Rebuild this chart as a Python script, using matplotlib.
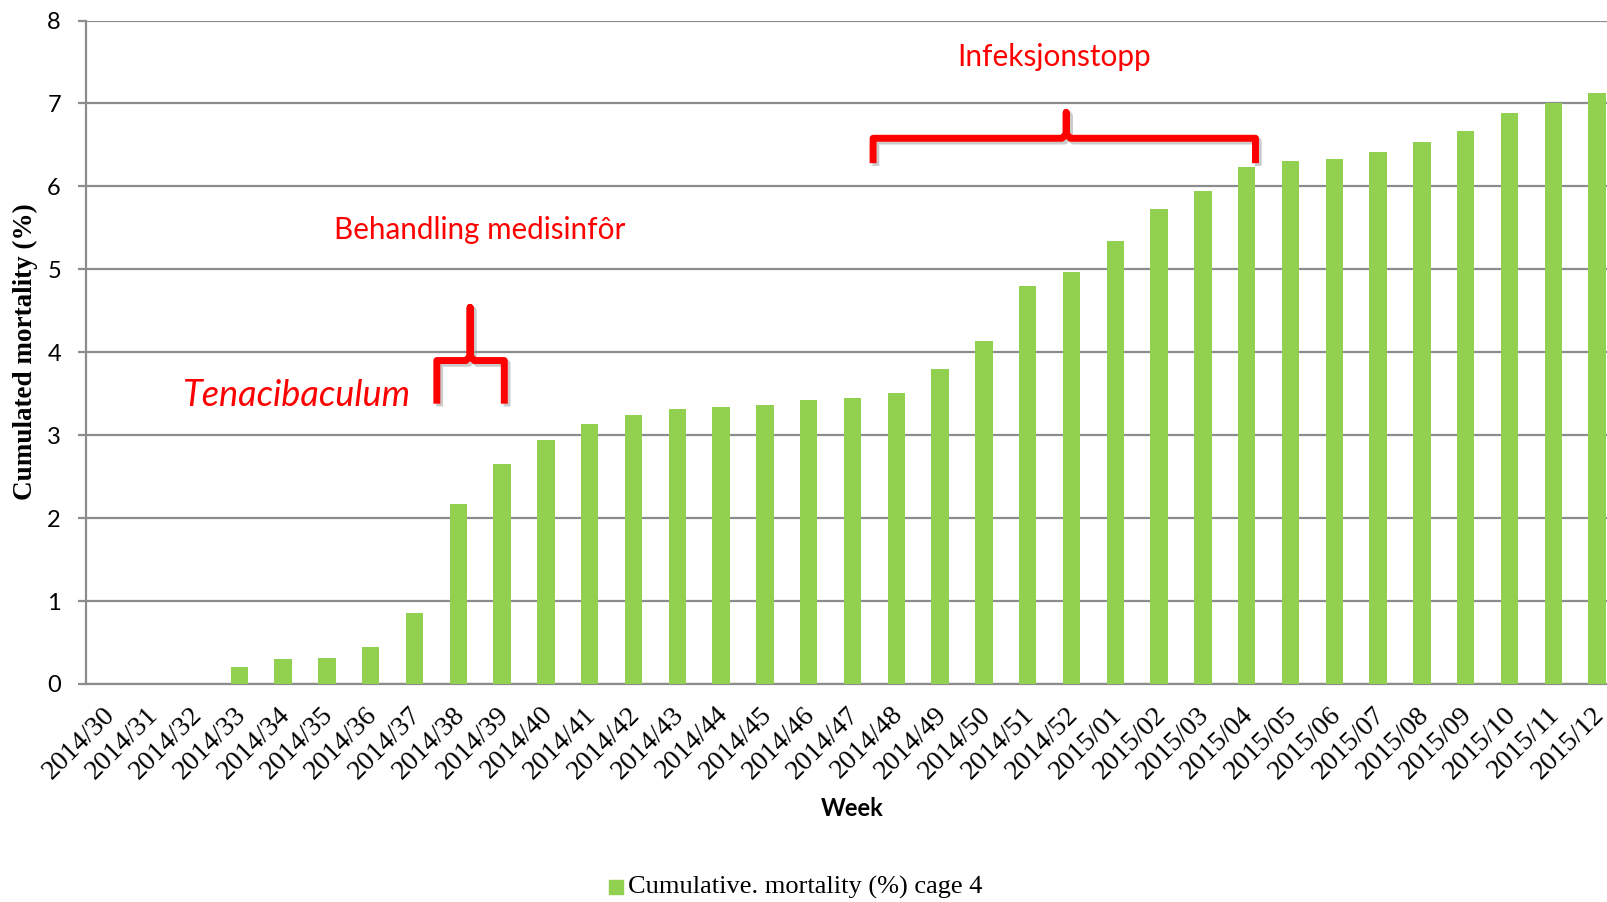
import matplotlib
matplotlib.use("Agg")
import matplotlib.pyplot as plt
import matplotlib.patheffects as pe
import matplotlib.transforms as mtransforms
import numpy as np

weeks = ["2014/%02d" % w for w in range(30, 53)] + ["2015/%02d" % w for w in range(1, 13)]
mortality = [0, 0, 0, 0.20, 0.30, 0.31, 0.45, 0.86, 2.17, 2.65, 2.94, 3.14,
             3.24, 3.31, 3.34, 3.37, 3.42, 3.45, 3.51, 3.80, 4.13, 4.80, 4.97,
             5.34, 5.73, 5.95, 6.23, 6.30, 6.33, 6.41, 6.53, 6.67, 6.88, 7.00, 7.12]
yticks = [0, 1, 2, 3, 4, 5, 6, 7, 8]

green = "#92D050"
grid_c = "#8c8c8c"
red = "#ff0000"

W, H = 1608, 902
fig = plt.figure(figsize=(W / 100, H / 100), dpi=100)
# plot area in pixels: left 86, top 20.5, bottom 684, runs off the right edge
ax = fig.add_axes([86 / W, (H - 684) / H, (W - 86) / W, (684 - 20.5) / H])

x = np.arange(len(weeks))
ax.bar(x, mortality, width=0.4, color=green, zorder=3)

ax.set_xlim(-0.5, -0.5 + (W - 86) / 43.8)
ax.set_ylim(0, 8)
ax.set_yticks(yticks)
ax.yaxis.grid(True, color=grid_c, lw=1.6, zorder=0)
ax.set_axisbelow(True)
for s in ["top", "right"]:
    ax.spines[s].set_visible(False)
for s in ["left", "bottom"]:
    ax.spines[s].set_color(grid_c)
    ax.spines[s].set_linewidth(1.6)
ax.tick_params(axis="y", length=6, width=1.6, color=grid_c, pad=12,
               labelsize=17)
for lab in ax.get_yticklabels():
    lab.set_fontfamily("Lato")
ax.tick_params(axis="x", length=0, pad=13)
ax.set_xticks(x)
ax.set_xticklabels(weeks, rotation=45, ha="right", rotation_mode="anchor",
                   fontfamily="Liberation Serif", fontsize=20)
shift = mtransforms.ScaledTranslation(-6 / 100, 0, fig.dpi_scale_trans)
for lab in ax.get_xticklabels():
    lab.set_transform(lab.get_transform() + shift)

fig.text(25 / W, 1 - 352 / H, "Cumulated mortality (%)", fontfamily="Liberation Serif",
         fontweight="bold", fontsize=19.5, rotation=90, ha="center", va="center")
fig.text(852 / W, 1 - 809 / H, "Week", fontfamily="Lato", fontweight="bold",
         fontsize=17, ha="center", va="center")

# legend
fig.patches.append(plt.Rectangle((609 / W, 1 - 894 / H), 14 / W, 14 / H,
                                 transform=fig.transFigure, color=green))
fig.text(628 / W, 1 - 887 / H, "Cumulative. mortality (%) cage 4",
         fontfamily="Liberation Serif", fontsize=19, ha="left", va="center")

# annotations
shadow = [pe.SimpleLineShadow(offset=(2, -2), shadow_color="0.6", alpha=0.5), pe.Normal()]


def brace(x0, x1, xt, yh, ye, yt):
    xs = [x0, x0, xt - 0.1, xt, xt, xt, xt + 0.1, x1, x1]
    ys = [ye, yh, yh, yh + 0.05, yt, yh + 0.05, yh, yh, ye]
    ax.plot(xs, ys, color=red, lw=5, solid_joinstyle="round",
            solid_capstyle="butt", zorder=5, path_effects=shadow, clip_on=False)


brace(7.51, 9.05, 8.27, 3.90, 3.38, 4.54)
brace(17.47, 26.2, 21.88, 6.58, 6.28, 6.89)

ax.text(8.48, 5.47, "Behandling medisinfôr", color=red, fontfamily="Lato",
        fontsize=21.3, ha="center", va="center")
ax.text(4.30, 3.48, "Tenacibaculum", color=red, fontfamily="Lato",
        style="italic", fontsize=26, ha="center", va="center")
ax.text(21.6, 7.56, "Infeksjonstopp", color=red, fontfamily="Lato",
        fontsize=21.4, ha="center", va="center")

fig.savefig("out.png", dpi=100)
